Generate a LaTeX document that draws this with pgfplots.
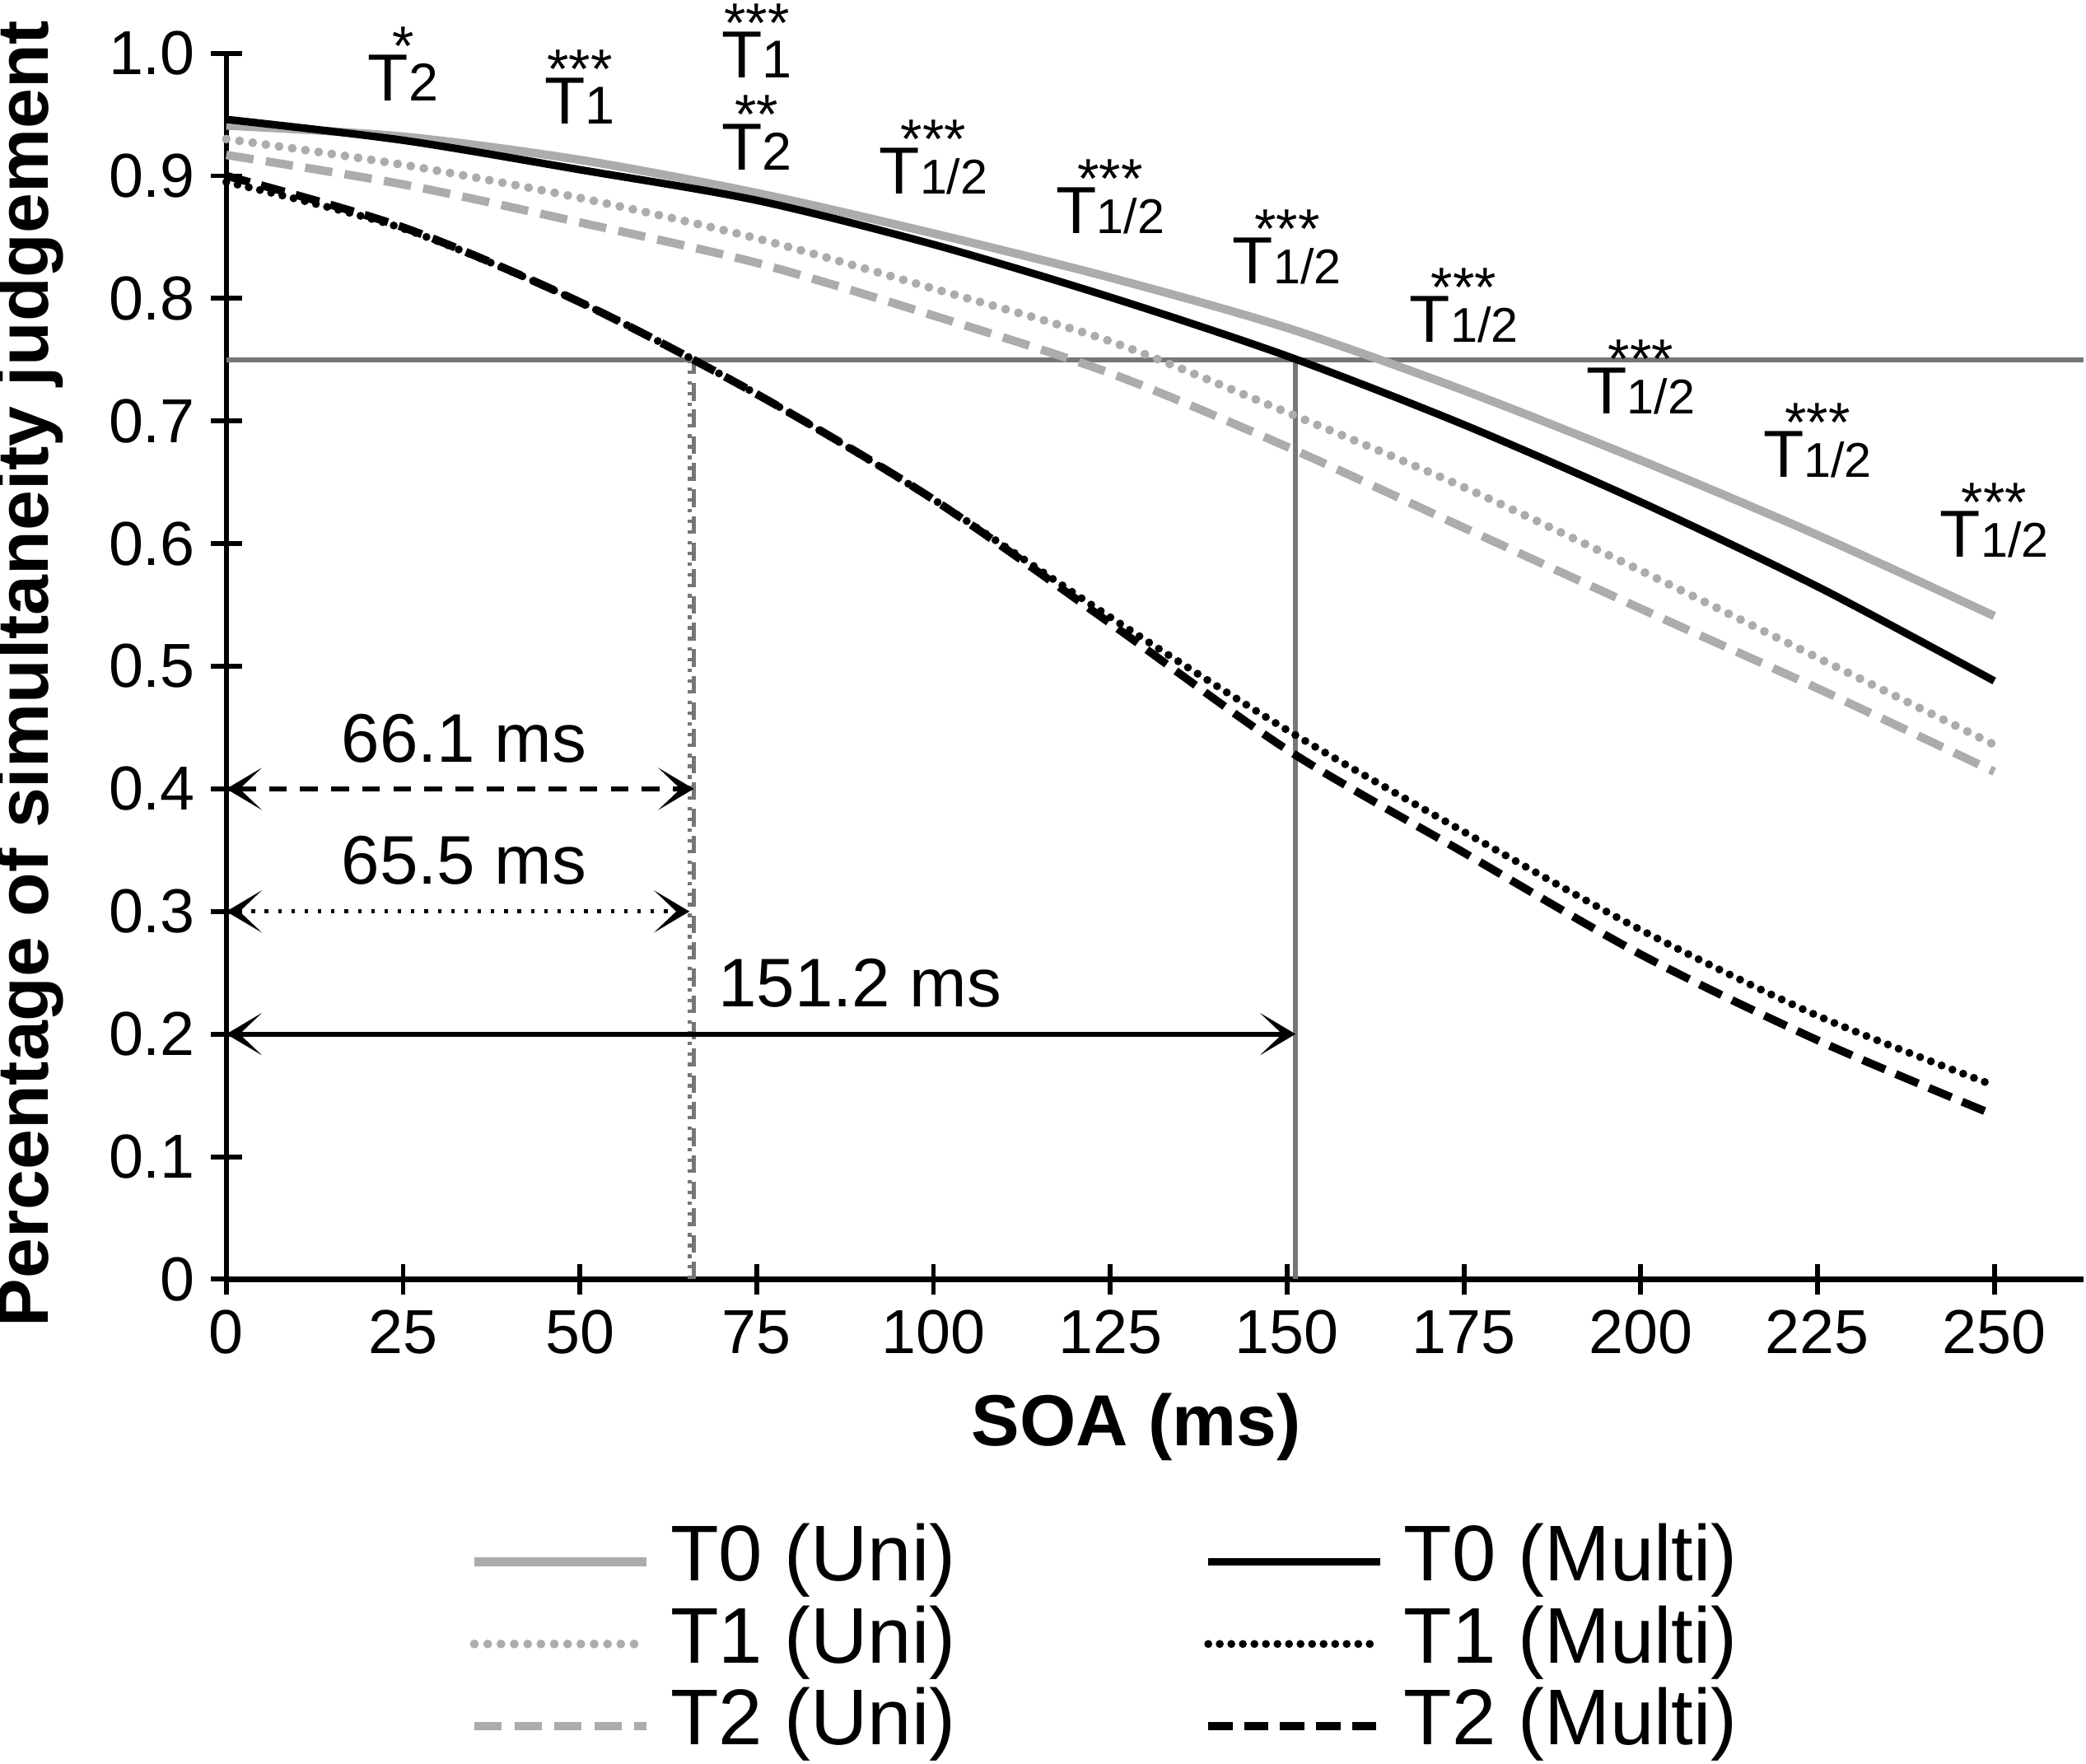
\documentclass[border=0pt]{standalone}
\usepackage{pgfplots}
\usepackage{pgfplotstable}
\pgfplotsset{compat=1.18}
\usepackage{fontspec}
\setmainfont{Liberation Sans}
\usetikzlibrary{arrows.meta}
\definecolor{lgray}{RGB}{172,172,172}
\definecolor{rgray}{RGB}{118,118,118}
\pgfplotstableread{
x   t0u  t0m  t1u  t1m  t2u  t2m
0   .941 .946 .930 .895 .917 .900
25  .932 .929 .909 .857 .893 .858
50  .913 .905 .882 .797 .862 .797
75  .886 .880 .849 .722 .829 .722
100 .853 .844 .808 .636 .786 .636
125 .817 .801 .765 .540 .739 .535
150 .776 .753 .707 .448 .679 .432
175 .725 .697 .646 .365 .613 .348
200 .668 .634 .578 .285 .547 .265
225 .607 .565 .507 .215 .482 .195
250 .541 .488 .436 .158 .414 .134
}\data
\tikzset{myarr/.tip={Stealth[length=8pt,width=9.5pt,inset=5pt]}}
\begin{document}
\begin{tikzpicture}
\begin{axis}[
  name=ax,
  scale only axis,
  width=418.5pt, height=276.3pt,
  xmin=0, xmax=262.6, ymin=0, ymax=1,
  axis lines=left,
  axis line style={-, line width=1.2pt},
  clip=false,
  tick align=center,
  major tick length=7pt,
  tick style={line width=1.1pt, black},
  xtick={0,25,50,75,100,125,150,175,200,225,250},
  ytick={0,0.1,0.2,0.3,0.4,0.5,0.6,0.7,0.8,0.9,1.0},
  yticklabels={0,0.1,0.2,0.3,0.4,0.5,0.6,0.7,0.8,0.9,1.0},
  /pgf/number format/assume math mode=true,
  ticklabel style={font=\fontsize{14}{14}\selectfont},
  xlabel={SOA (ms)},
  ylabel={Percentage of simultaneity judgement},
  xlabel style={font=\fontsize{16.3}{16.3}\selectfont\bfseries, at={(axis description cs:0.49,-0.1205)}, anchor=center},
  ylabel style={font=\fontsize{16.3}{16.3}\selectfont\bfseries, at={(axis description cs:-0.106,0.494)}, anchor=center},
  legend columns=2,
  legend cell align=left,
  legend style={draw=none, fill=none, inner sep=0pt, outer sep=0pt,
    font=\fontsize{17.8}{17.8}\selectfont,
    nodes={inner sep=1pt, text height=12.5pt, text depth=4pt},
    at={(axis description cs:0.1312,-0.197)}, anchor=north west,
    row sep=0pt,
    /tikz/every odd column/.append style={column sep=3.5pt},
    /tikz/every even column/.append style={column sep=55pt}},
  legend image code/.code={\draw[#1] (0pt,0pt) -- (38.7pt,0pt);},
]
% reference lines
\addplot[forget plot, rgray, line width=1pt] coordinates {(0,0.75) (262.6,0.75)};
\addplot[forget plot, rgray, line width=1pt] coordinates {(151.2,0) (151.2,0.75)};
\addplot[forget plot, rgray, line width=0.9pt, dash pattern=on 4pt off 2pt] coordinates {(66.1,0) (66.1,0.75)};
\addplot[forget plot, rgray, line width=0.9pt, dash pattern=on 0.8pt off 1.6pt] coordinates {(65.5,0) (65.5,0.75)};
% arrows
\addplot[forget plot, black, line width=1.1pt, dash pattern=on 4pt off 3pt, {myarr}-{myarr}] coordinates {(0,0.4) (66.1,0.4)};
\addplot[forget plot, black, line width=1pt, dash pattern=on 0.8pt off 2.2pt, {myarr}-{myarr}] coordinates {(0,0.3) (65.5,0.3)};
\addplot[forget plot, black, line width=1.1pt, {myarr}-{myarr}] coordinates {(0,0.2) (151.2,0.2)};
% curves
\addplot[lgray, line width=1.9pt, smooth] table[x=x, y=t0u] {\data};
\addlegendentry{T0 (Uni)}
\addplot[black, line width=1.7pt, smooth] table[x=x, y=t0m] {\data};
\addlegendentry{T0 (Multi)}
\addplot[lgray, line width=2pt, line cap=round, dash pattern=on 0pt off 3pt, smooth] table[x=x, y=t1u] {\data};
\addlegendentry{T1 (Uni)}
\addplot[black, line width=1.8pt, line cap=round, dash pattern=on 0pt off 2.6pt, smooth] table[x=x, y=t1m] {\data};
\addlegendentry{T1 (Multi)}
\addplot[lgray, line width=1.9pt, dash pattern=on 6.2pt off 2.8pt, smooth] table[x=x, y=t2u] {\data};
\addlegendentry{T2 (Uni)}
\addplot[black, line width=1.8pt, dash pattern=on 5.5pt off 2.6pt, smooth] table[x=x, y=t2m] {\data};
\addlegendentry{T2 (Multi)}
% annotations
\node[anchor=base, inner sep=0] at (axis cs:33.6,0.422) {\fontsize{15.5}{15.5}\selectfont 66.1 ms};
\node[anchor=base, inner sep=0] at (axis cs:33.6,0.3226) {\fontsize{15.5}{15.5}\selectfont 65.5 ms};
\node[anchor=base, inner sep=0] at (axis cs:89.6,0.222) {\fontsize{15.5}{15.5}\selectfont 151.2 ms};
% significance
\node[anchor=base, inner sep=0] at (axis cs:25,0.961) {\fontsize{15}{15}\selectfont T\fontsize{12}{12}\selectfont 2};
\node[anchor=base, inner sep=0] at (axis cs:25,0.990) {\fontsize{12.6}{12.6}\selectfont *};
\node[anchor=base, inner sep=0] at (axis cs:50,0.942) {\fontsize{15}{15}\selectfont T\fontsize{12}{12}\selectfont 1};
\node[anchor=base, inner sep=0] at (axis cs:50,0.971) {\fontsize{12.6}{12.6}\selectfont ***};
\node[anchor=base, inner sep=0] at (axis cs:75,0.980) {\fontsize{15}{15}\selectfont T\fontsize{12}{12}\selectfont 1};
\node[anchor=base, inner sep=0] at (axis cs:75,1.009) {\fontsize{12.6}{12.6}\selectfont ***};
\node[anchor=base, inner sep=0] at (axis cs:75,0.905) {\fontsize{15}{15}\selectfont T\fontsize{12}{12}\selectfont 2};
\node[anchor=base, inner sep=0] at (axis cs:75,0.934) {\fontsize{12.6}{12.6}\selectfont **};
\node[anchor=base, inner sep=0] at (axis cs:100,0.885) {\fontsize{15}{15}\selectfont T\fontsize{11}{11}\selectfont 1/2};
\node[anchor=base, inner sep=0] at (axis cs:100,0.914) {\fontsize{12.6}{12.6}\selectfont ***};
\node[anchor=base, inner sep=0] at (axis cs:125,0.853) {\fontsize{15}{15}\selectfont T\fontsize{11}{11}\selectfont 1/2};
\node[anchor=base, inner sep=0] at (axis cs:125,0.882) {\fontsize{12.6}{12.6}\selectfont ***};
\node[anchor=base, inner sep=0] at (axis cs:150,0.812) {\fontsize{15}{15}\selectfont T\fontsize{11}{11}\selectfont 1/2};
\node[anchor=base, inner sep=0] at (axis cs:150,0.841) {\fontsize{12.6}{12.6}\selectfont ***};
\node[anchor=base, inner sep=0] at (axis cs:175,0.764) {\fontsize{15}{15}\selectfont T\fontsize{11}{11}\selectfont 1/2};
\node[anchor=base, inner sep=0] at (axis cs:175,0.793) {\fontsize{12.6}{12.6}\selectfont ***};
\node[anchor=base, inner sep=0] at (axis cs:200,0.706) {\fontsize{15}{15}\selectfont T\fontsize{11}{11}\selectfont 1/2};
\node[anchor=base, inner sep=0] at (axis cs:200,0.735) {\fontsize{12.6}{12.6}\selectfont ***};
\node[anchor=base, inner sep=0] at (axis cs:225,0.654) {\fontsize{15}{15}\selectfont T\fontsize{11}{11}\selectfont 1/2};
\node[anchor=base, inner sep=0] at (axis cs:225,0.683) {\fontsize{12.6}{12.6}\selectfont ***};
\node[anchor=base, inner sep=0] at (axis cs:250,0.589) {\fontsize{15}{15}\selectfont T\fontsize{11}{11}\selectfont 1/2};
\node[anchor=base, inner sep=0] at (axis cs:250,0.618) {\fontsize{12.6}{12.6}\selectfont ***};
\coordinate (O) at (rel axis cs:0,0);
\end{axis}
\pgfresetboundingbox
\path[use as bounding box] (O) ++(-51pt,-109.2pt) rectangle ++(470.1pt,397.5pt);
\end{tikzpicture}
\end{document}
